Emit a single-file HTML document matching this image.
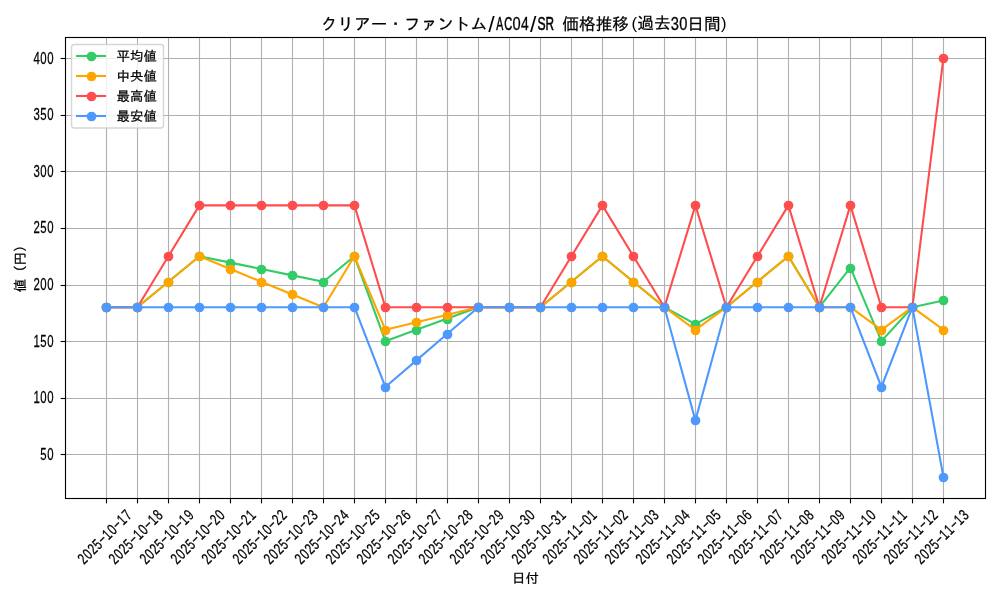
<!DOCTYPE html>
<html lang="ja">
<head>
<meta charset="utf-8">
<title>クリアー・ファントム/AC04/SR 価格推移(過去30日間)</title>
<style>
html,body{margin:0;padding:0;background:#fff;}
body{width:1000px;height:600px;overflow:hidden;}
svg{display:block;}
text{font-family:"Liberation Sans", "IPAGothic", sans-serif;fill:#000;stroke:#000;stroke-width:0.25px;}
.t10{font-size:13.889px;}
.t10s{font-size:13.4px;}
.t12{font-size:16.667px;}
.l10{font-size:15.60px;}
.l12{font-size:18.00px;}
</style>
</head>
<body>
<svg width="1000" height="600" viewBox="0 0 1000 600">
<rect x="0" y="0" width="1000" height="600" fill="#ffffff"/>
<g stroke="#b0b0b0" stroke-width="1.11" fill="none">
<line x1="106.5" y1="37.5" x2="106.5" y2="498.5"/>
<line x1="137.5" y1="37.5" x2="137.5" y2="498.5"/>
<line x1="168.5" y1="37.5" x2="168.5" y2="498.5"/>
<line x1="199.5" y1="37.5" x2="199.5" y2="498.5"/>
<line x1="230.5" y1="37.5" x2="230.5" y2="498.5"/>
<line x1="261.5" y1="37.5" x2="261.5" y2="498.5"/>
<line x1="292.5" y1="37.5" x2="292.5" y2="498.5"/>
<line x1="323.5" y1="37.5" x2="323.5" y2="498.5"/>
<line x1="354.5" y1="37.5" x2="354.5" y2="498.5"/>
<line x1="385.5" y1="37.5" x2="385.5" y2="498.5"/>
<line x1="416.5" y1="37.5" x2="416.5" y2="498.5"/>
<line x1="447.5" y1="37.5" x2="447.5" y2="498.5"/>
<line x1="478.5" y1="37.5" x2="478.5" y2="498.5"/>
<line x1="509.5" y1="37.5" x2="509.5" y2="498.5"/>
<line x1="540.5" y1="37.5" x2="540.5" y2="498.5"/>
<line x1="571.5" y1="37.5" x2="571.5" y2="498.5"/>
<line x1="602.5" y1="37.5" x2="602.5" y2="498.5"/>
<line x1="633.5" y1="37.5" x2="633.5" y2="498.5"/>
<line x1="664.5" y1="37.5" x2="664.5" y2="498.5"/>
<line x1="695.5" y1="37.5" x2="695.5" y2="498.5"/>
<line x1="726.5" y1="37.5" x2="726.5" y2="498.5"/>
<line x1="757.5" y1="37.5" x2="757.5" y2="498.5"/>
<line x1="788.5" y1="37.5" x2="788.5" y2="498.5"/>
<line x1="819.5" y1="37.5" x2="819.5" y2="498.5"/>
<line x1="850.5" y1="37.5" x2="850.5" y2="498.5"/>
<line x1="881.5" y1="37.5" x2="881.5" y2="498.5"/>
<line x1="912.5" y1="37.5" x2="912.5" y2="498.5"/>
<line x1="943.5" y1="37.5" x2="943.5" y2="498.5"/>
<line x1="65.5" y1="454.5" x2="985.5" y2="454.5"/>
<line x1="65.5" y1="398.5" x2="985.5" y2="398.5"/>
<line x1="65.5" y1="341.5" x2="985.5" y2="341.5"/>
<line x1="65.5" y1="285.5" x2="985.5" y2="285.5"/>
<line x1="65.5" y1="228.5" x2="985.5" y2="228.5"/>
<line x1="65.5" y1="171.5" x2="985.5" y2="171.5"/>
<line x1="65.5" y1="115.5" x2="985.5" y2="115.5"/>
<line x1="65.5" y1="58.5" x2="985.5" y2="58.5"/>
</g>
<g stroke="#000" stroke-width="1.11" fill="none">
<line x1="106.5" y1="498.5" x2="106.5" y2="503.36"/>
<line x1="137.5" y1="498.5" x2="137.5" y2="503.36"/>
<line x1="168.5" y1="498.5" x2="168.5" y2="503.36"/>
<line x1="199.5" y1="498.5" x2="199.5" y2="503.36"/>
<line x1="230.5" y1="498.5" x2="230.5" y2="503.36"/>
<line x1="261.5" y1="498.5" x2="261.5" y2="503.36"/>
<line x1="292.5" y1="498.5" x2="292.5" y2="503.36"/>
<line x1="323.5" y1="498.5" x2="323.5" y2="503.36"/>
<line x1="354.5" y1="498.5" x2="354.5" y2="503.36"/>
<line x1="385.5" y1="498.5" x2="385.5" y2="503.36"/>
<line x1="416.5" y1="498.5" x2="416.5" y2="503.36"/>
<line x1="447.5" y1="498.5" x2="447.5" y2="503.36"/>
<line x1="478.5" y1="498.5" x2="478.5" y2="503.36"/>
<line x1="509.5" y1="498.5" x2="509.5" y2="503.36"/>
<line x1="540.5" y1="498.5" x2="540.5" y2="503.36"/>
<line x1="571.5" y1="498.5" x2="571.5" y2="503.36"/>
<line x1="602.5" y1="498.5" x2="602.5" y2="503.36"/>
<line x1="633.5" y1="498.5" x2="633.5" y2="503.36"/>
<line x1="664.5" y1="498.5" x2="664.5" y2="503.36"/>
<line x1="695.5" y1="498.5" x2="695.5" y2="503.36"/>
<line x1="726.5" y1="498.5" x2="726.5" y2="503.36"/>
<line x1="757.5" y1="498.5" x2="757.5" y2="503.36"/>
<line x1="788.5" y1="498.5" x2="788.5" y2="503.36"/>
<line x1="819.5" y1="498.5" x2="819.5" y2="503.36"/>
<line x1="850.5" y1="498.5" x2="850.5" y2="503.36"/>
<line x1="881.5" y1="498.5" x2="881.5" y2="503.36"/>
<line x1="912.5" y1="498.5" x2="912.5" y2="503.36"/>
<line x1="943.5" y1="498.5" x2="943.5" y2="503.36"/>
<line x1="60.64" y1="454.5" x2="65.5" y2="454.5"/>
<line x1="60.64" y1="398.5" x2="65.5" y2="398.5"/>
<line x1="60.64" y1="341.5" x2="65.5" y2="341.5"/>
<line x1="60.64" y1="285.5" x2="65.5" y2="285.5"/>
<line x1="60.64" y1="228.5" x2="65.5" y2="228.5"/>
<line x1="60.64" y1="171.5" x2="65.5" y2="171.5"/>
<line x1="60.64" y1="115.5" x2="65.5" y2="115.5"/>
<line x1="60.64" y1="58.5" x2="65.5" y2="58.5"/>
</g>
<svg x="64.55" y="37.26" width="920.70" height="460.66" viewBox="64.55 37.26 920.70 460.66" overflow="hidden">
<g fill="#33cc66" stroke="#33cc66">
<polyline points="106.40,307.20 137.40,307.20 168.40,281.74 199.40,256.27 230.40,262.64 261.40,269.00 292.40,275.37 323.40,281.74 354.40,256.27 385.40,341.16 416.40,329.84 447.40,318.52 478.40,307.20 509.40,307.20 540.40,307.20 571.40,281.74 602.40,256.27 633.40,281.74 664.40,307.20 695.40,324.18 726.40,307.20 757.40,281.74 788.40,256.27 819.40,307.20 850.40,267.59 881.40,341.16 912.40,307.20 943.40,300.41" fill="none" stroke-width="2.083" stroke-linejoin="round" stroke-linecap="square"/>
<circle cx="106.50" cy="307.50" r="4.167" stroke-width="1.389"/>
<circle cx="137.50" cy="307.50" r="4.167" stroke-width="1.389"/>
<circle cx="168.50" cy="282.50" r="4.167" stroke-width="1.389"/>
<circle cx="199.50" cy="256.50" r="4.167" stroke-width="1.389"/>
<circle cx="230.50" cy="263.50" r="4.167" stroke-width="1.389"/>
<circle cx="261.50" cy="269.50" r="4.167" stroke-width="1.389"/>
<circle cx="292.50" cy="275.50" r="4.167" stroke-width="1.389"/>
<circle cx="323.50" cy="282.50" r="4.167" stroke-width="1.389"/>
<circle cx="354.50" cy="256.50" r="4.167" stroke-width="1.389"/>
<circle cx="385.50" cy="341.50" r="4.167" stroke-width="1.389"/>
<circle cx="416.50" cy="330.50" r="4.167" stroke-width="1.389"/>
<circle cx="447.50" cy="319.50" r="4.167" stroke-width="1.389"/>
<circle cx="478.50" cy="307.50" r="4.167" stroke-width="1.389"/>
<circle cx="509.50" cy="307.50" r="4.167" stroke-width="1.389"/>
<circle cx="540.50" cy="307.50" r="4.167" stroke-width="1.389"/>
<circle cx="571.50" cy="282.50" r="4.167" stroke-width="1.389"/>
<circle cx="602.50" cy="256.50" r="4.167" stroke-width="1.389"/>
<circle cx="633.50" cy="282.50" r="4.167" stroke-width="1.389"/>
<circle cx="664.50" cy="307.50" r="4.167" stroke-width="1.389"/>
<circle cx="695.50" cy="324.50" r="4.167" stroke-width="1.389"/>
<circle cx="726.50" cy="307.50" r="4.167" stroke-width="1.389"/>
<circle cx="757.50" cy="282.50" r="4.167" stroke-width="1.389"/>
<circle cx="788.50" cy="256.50" r="4.167" stroke-width="1.389"/>
<circle cx="819.50" cy="307.50" r="4.167" stroke-width="1.389"/>
<circle cx="850.50" cy="268.50" r="4.167" stroke-width="1.389"/>
<circle cx="881.50" cy="341.50" r="4.167" stroke-width="1.389"/>
<circle cx="912.50" cy="307.50" r="4.167" stroke-width="1.389"/>
<circle cx="943.50" cy="300.50" r="4.167" stroke-width="1.389"/>
</g>
<g fill="#ffa500" stroke="#ffa500">
<polyline points="106.40,307.20 137.40,307.20 168.40,281.74 199.40,256.27 230.40,269.00 261.40,281.74 292.40,294.47 323.40,307.20 354.40,256.27 385.40,329.84 416.40,322.29 447.40,314.75 478.40,307.20 509.40,307.20 540.40,307.20 571.40,281.74 602.40,256.27 633.40,281.74 664.40,307.20 695.40,329.84 726.40,307.20 757.40,281.74 788.40,256.27 819.40,307.20 850.40,307.20 881.40,329.84 912.40,307.20 943.40,329.84" fill="none" stroke-width="2.083" stroke-linejoin="round" stroke-linecap="square"/>
<circle cx="106.50" cy="307.50" r="4.167" stroke-width="1.389"/>
<circle cx="137.50" cy="307.50" r="4.167" stroke-width="1.389"/>
<circle cx="168.50" cy="282.50" r="4.167" stroke-width="1.389"/>
<circle cx="199.50" cy="256.50" r="4.167" stroke-width="1.389"/>
<circle cx="230.50" cy="269.50" r="4.167" stroke-width="1.389"/>
<circle cx="261.50" cy="282.50" r="4.167" stroke-width="1.389"/>
<circle cx="292.50" cy="294.50" r="4.167" stroke-width="1.389"/>
<circle cx="323.50" cy="307.50" r="4.167" stroke-width="1.389"/>
<circle cx="354.50" cy="256.50" r="4.167" stroke-width="1.389"/>
<circle cx="385.50" cy="330.50" r="4.167" stroke-width="1.389"/>
<circle cx="416.50" cy="322.50" r="4.167" stroke-width="1.389"/>
<circle cx="447.50" cy="315.50" r="4.167" stroke-width="1.389"/>
<circle cx="478.50" cy="307.50" r="4.167" stroke-width="1.389"/>
<circle cx="509.50" cy="307.50" r="4.167" stroke-width="1.389"/>
<circle cx="540.50" cy="307.50" r="4.167" stroke-width="1.389"/>
<circle cx="571.50" cy="282.50" r="4.167" stroke-width="1.389"/>
<circle cx="602.50" cy="256.50" r="4.167" stroke-width="1.389"/>
<circle cx="633.50" cy="282.50" r="4.167" stroke-width="1.389"/>
<circle cx="664.50" cy="307.50" r="4.167" stroke-width="1.389"/>
<circle cx="695.50" cy="330.50" r="4.167" stroke-width="1.389"/>
<circle cx="726.50" cy="307.50" r="4.167" stroke-width="1.389"/>
<circle cx="757.50" cy="282.50" r="4.167" stroke-width="1.389"/>
<circle cx="788.50" cy="256.50" r="4.167" stroke-width="1.389"/>
<circle cx="819.50" cy="307.50" r="4.167" stroke-width="1.389"/>
<circle cx="850.50" cy="307.50" r="4.167" stroke-width="1.389"/>
<circle cx="881.50" cy="330.50" r="4.167" stroke-width="1.389"/>
<circle cx="912.50" cy="307.50" r="4.167" stroke-width="1.389"/>
<circle cx="943.50" cy="330.50" r="4.167" stroke-width="1.389"/>
</g>
<g fill="#ff4d4d" stroke="#ff4d4d">
<polyline points="106.40,307.20 137.40,307.20 168.40,256.27 199.40,205.34 230.40,205.34 261.40,205.34 292.40,205.34 323.40,205.34 354.40,205.34 385.40,307.20 416.40,307.20 447.40,307.20 478.40,307.20 509.40,307.20 540.40,307.20 571.40,256.27 602.40,205.34 633.40,256.27 664.40,307.20 695.40,205.34 726.40,307.20 757.40,256.27 788.40,205.34 819.40,307.20 850.40,205.34 881.40,307.20 912.40,307.20 943.40,58.20" fill="none" stroke-width="2.083" stroke-linejoin="round" stroke-linecap="square"/>
<circle cx="106.50" cy="307.50" r="4.167" stroke-width="1.389"/>
<circle cx="137.50" cy="307.50" r="4.167" stroke-width="1.389"/>
<circle cx="168.50" cy="256.50" r="4.167" stroke-width="1.389"/>
<circle cx="199.50" cy="205.50" r="4.167" stroke-width="1.389"/>
<circle cx="230.50" cy="205.50" r="4.167" stroke-width="1.389"/>
<circle cx="261.50" cy="205.50" r="4.167" stroke-width="1.389"/>
<circle cx="292.50" cy="205.50" r="4.167" stroke-width="1.389"/>
<circle cx="323.50" cy="205.50" r="4.167" stroke-width="1.389"/>
<circle cx="354.50" cy="205.50" r="4.167" stroke-width="1.389"/>
<circle cx="385.50" cy="307.50" r="4.167" stroke-width="1.389"/>
<circle cx="416.50" cy="307.50" r="4.167" stroke-width="1.389"/>
<circle cx="447.50" cy="307.50" r="4.167" stroke-width="1.389"/>
<circle cx="478.50" cy="307.50" r="4.167" stroke-width="1.389"/>
<circle cx="509.50" cy="307.50" r="4.167" stroke-width="1.389"/>
<circle cx="540.50" cy="307.50" r="4.167" stroke-width="1.389"/>
<circle cx="571.50" cy="256.50" r="4.167" stroke-width="1.389"/>
<circle cx="602.50" cy="205.50" r="4.167" stroke-width="1.389"/>
<circle cx="633.50" cy="256.50" r="4.167" stroke-width="1.389"/>
<circle cx="664.50" cy="307.50" r="4.167" stroke-width="1.389"/>
<circle cx="695.50" cy="205.50" r="4.167" stroke-width="1.389"/>
<circle cx="726.50" cy="307.50" r="4.167" stroke-width="1.389"/>
<circle cx="757.50" cy="256.50" r="4.167" stroke-width="1.389"/>
<circle cx="788.50" cy="205.50" r="4.167" stroke-width="1.389"/>
<circle cx="819.50" cy="307.50" r="4.167" stroke-width="1.389"/>
<circle cx="850.50" cy="205.50" r="4.167" stroke-width="1.389"/>
<circle cx="881.50" cy="307.50" r="4.167" stroke-width="1.389"/>
<circle cx="912.50" cy="307.50" r="4.167" stroke-width="1.389"/>
<circle cx="943.50" cy="58.50" r="4.167" stroke-width="1.389"/>
</g>
<g fill="#4d99ff" stroke="#4d99ff">
<polyline points="106.40,307.20 137.40,307.20 168.40,307.20 199.40,307.20 230.40,307.20 261.40,307.20 292.40,307.20 323.40,307.20 354.40,307.20 385.40,387.00 416.40,360.40 447.40,333.80 478.40,307.20 509.40,307.20 540.40,307.20 571.40,307.20 602.40,307.20 633.40,307.20 664.40,307.20 695.40,420.39 726.40,307.20 757.40,307.20 788.40,307.20 819.40,307.20 850.40,307.20 881.40,387.00 912.40,307.20 943.40,476.98" fill="none" stroke-width="2.083" stroke-linejoin="round" stroke-linecap="square"/>
<circle cx="106.50" cy="307.50" r="4.167" stroke-width="1.389"/>
<circle cx="137.50" cy="307.50" r="4.167" stroke-width="1.389"/>
<circle cx="168.50" cy="307.50" r="4.167" stroke-width="1.389"/>
<circle cx="199.50" cy="307.50" r="4.167" stroke-width="1.389"/>
<circle cx="230.50" cy="307.50" r="4.167" stroke-width="1.389"/>
<circle cx="261.50" cy="307.50" r="4.167" stroke-width="1.389"/>
<circle cx="292.50" cy="307.50" r="4.167" stroke-width="1.389"/>
<circle cx="323.50" cy="307.50" r="4.167" stroke-width="1.389"/>
<circle cx="354.50" cy="307.50" r="4.167" stroke-width="1.389"/>
<circle cx="385.50" cy="387.50" r="4.167" stroke-width="1.389"/>
<circle cx="416.50" cy="360.50" r="4.167" stroke-width="1.389"/>
<circle cx="447.50" cy="334.50" r="4.167" stroke-width="1.389"/>
<circle cx="478.50" cy="307.50" r="4.167" stroke-width="1.389"/>
<circle cx="509.50" cy="307.50" r="4.167" stroke-width="1.389"/>
<circle cx="540.50" cy="307.50" r="4.167" stroke-width="1.389"/>
<circle cx="571.50" cy="307.50" r="4.167" stroke-width="1.389"/>
<circle cx="602.50" cy="307.50" r="4.167" stroke-width="1.389"/>
<circle cx="633.50" cy="307.50" r="4.167" stroke-width="1.389"/>
<circle cx="664.50" cy="307.50" r="4.167" stroke-width="1.389"/>
<circle cx="695.50" cy="420.50" r="4.167" stroke-width="1.389"/>
<circle cx="726.50" cy="307.50" r="4.167" stroke-width="1.389"/>
<circle cx="757.50" cy="307.50" r="4.167" stroke-width="1.389"/>
<circle cx="788.50" cy="307.50" r="4.167" stroke-width="1.389"/>
<circle cx="819.50" cy="307.50" r="4.167" stroke-width="1.389"/>
<circle cx="850.50" cy="307.50" r="4.167" stroke-width="1.389"/>
<circle cx="881.50" cy="387.50" r="4.167" stroke-width="1.389"/>
<circle cx="912.50" cy="307.50" r="4.167" stroke-width="1.389"/>
<circle cx="943.50" cy="477.50" r="4.167" stroke-width="1.389"/>
</g>
</svg>
<rect x="65.5" y="37.5" width="920.0" height="461.0" fill="none" stroke="#000" stroke-width="1.11" stroke-linejoin="miter"/>
<text class="l10" transform="translate(53.90 459.80) scale(0.730 1)" x="-14.27 -4.76" y="0" text-anchor="middle">50</text>
<text class="l10" transform="translate(53.90 402.80) scale(0.730 1)" x="-23.78 -14.27 -4.76" y="0" text-anchor="middle">100</text>
<text class="l10" transform="translate(53.90 346.80) scale(0.730 1)" x="-23.78 -14.27 -4.76" y="0" text-anchor="middle">150</text>
<text class="l10" transform="translate(53.90 289.80) scale(0.730 1)" x="-23.78 -14.27 -4.76" y="0" text-anchor="middle">200</text>
<text class="l10" transform="translate(53.90 232.80) scale(0.730 1)" x="-23.78 -14.27 -4.76" y="0" text-anchor="middle">250</text>
<text class="l10" transform="translate(53.90 176.80) scale(0.730 1)" x="-23.78 -14.27 -4.76" y="0" text-anchor="middle">300</text>
<text class="l10" transform="translate(53.90 119.80) scale(0.730 1)" x="-23.78 -14.27 -4.76" y="0" text-anchor="middle">350</text>
<text class="l10" transform="translate(53.90 63.80) scale(0.730 1)" x="-23.78 -14.27 -4.76" y="0" text-anchor="middle">400</text>
<text class="l10" transform="translate(108.40 540.60) rotate(-45) scale(0.730 1)" x="-42.81 -33.30 -23.78 -14.27 -4.76 4.76 14.27 23.78 33.30 42.81" y="0" text-anchor="middle">2025<tspan dy="-1.30" textLength="9.87" lengthAdjust="spacingAndGlyphs">-</tspan><tspan dy="1.30">10</tspan><tspan dy="-1.30" textLength="9.87" lengthAdjust="spacingAndGlyphs">-</tspan><tspan dy="1.30">17</tspan></text>
<text class="l10" transform="translate(139.40 540.60) rotate(-45) scale(0.730 1)" x="-42.81 -33.30 -23.78 -14.27 -4.76 4.76 14.27 23.78 33.30 42.81" y="0" text-anchor="middle">2025<tspan dy="-1.30" textLength="9.87" lengthAdjust="spacingAndGlyphs">-</tspan><tspan dy="1.30">10</tspan><tspan dy="-1.30" textLength="9.87" lengthAdjust="spacingAndGlyphs">-</tspan><tspan dy="1.30">18</tspan></text>
<text class="l10" transform="translate(170.40 540.60) rotate(-45) scale(0.730 1)" x="-42.81 -33.30 -23.78 -14.27 -4.76 4.76 14.27 23.78 33.30 42.81" y="0" text-anchor="middle">2025<tspan dy="-1.30" textLength="9.87" lengthAdjust="spacingAndGlyphs">-</tspan><tspan dy="1.30">10</tspan><tspan dy="-1.30" textLength="9.87" lengthAdjust="spacingAndGlyphs">-</tspan><tspan dy="1.30">19</tspan></text>
<text class="l10" transform="translate(201.40 540.60) rotate(-45) scale(0.730 1)" x="-42.81 -33.30 -23.78 -14.27 -4.76 4.76 14.27 23.78 33.30 42.81" y="0" text-anchor="middle">2025<tspan dy="-1.30" textLength="9.87" lengthAdjust="spacingAndGlyphs">-</tspan><tspan dy="1.30">10</tspan><tspan dy="-1.30" textLength="9.87" lengthAdjust="spacingAndGlyphs">-</tspan><tspan dy="1.30">20</tspan></text>
<text class="l10" transform="translate(232.40 540.60) rotate(-45) scale(0.730 1)" x="-42.81 -33.30 -23.78 -14.27 -4.76 4.76 14.27 23.78 33.30 42.81" y="0" text-anchor="middle">2025<tspan dy="-1.30" textLength="9.87" lengthAdjust="spacingAndGlyphs">-</tspan><tspan dy="1.30">10</tspan><tspan dy="-1.30" textLength="9.87" lengthAdjust="spacingAndGlyphs">-</tspan><tspan dy="1.30">21</tspan></text>
<text class="l10" transform="translate(263.40 540.60) rotate(-45) scale(0.730 1)" x="-42.81 -33.30 -23.78 -14.27 -4.76 4.76 14.27 23.78 33.30 42.81" y="0" text-anchor="middle">2025<tspan dy="-1.30" textLength="9.87" lengthAdjust="spacingAndGlyphs">-</tspan><tspan dy="1.30">10</tspan><tspan dy="-1.30" textLength="9.87" lengthAdjust="spacingAndGlyphs">-</tspan><tspan dy="1.30">22</tspan></text>
<text class="l10" transform="translate(294.40 540.60) rotate(-45) scale(0.730 1)" x="-42.81 -33.30 -23.78 -14.27 -4.76 4.76 14.27 23.78 33.30 42.81" y="0" text-anchor="middle">2025<tspan dy="-1.30" textLength="9.87" lengthAdjust="spacingAndGlyphs">-</tspan><tspan dy="1.30">10</tspan><tspan dy="-1.30" textLength="9.87" lengthAdjust="spacingAndGlyphs">-</tspan><tspan dy="1.30">23</tspan></text>
<text class="l10" transform="translate(325.40 540.60) rotate(-45) scale(0.730 1)" x="-42.81 -33.30 -23.78 -14.27 -4.76 4.76 14.27 23.78 33.30 42.81" y="0" text-anchor="middle">2025<tspan dy="-1.30" textLength="9.87" lengthAdjust="spacingAndGlyphs">-</tspan><tspan dy="1.30">10</tspan><tspan dy="-1.30" textLength="9.87" lengthAdjust="spacingAndGlyphs">-</tspan><tspan dy="1.30">24</tspan></text>
<text class="l10" transform="translate(356.40 540.60) rotate(-45) scale(0.730 1)" x="-42.81 -33.30 -23.78 -14.27 -4.76 4.76 14.27 23.78 33.30 42.81" y="0" text-anchor="middle">2025<tspan dy="-1.30" textLength="9.87" lengthAdjust="spacingAndGlyphs">-</tspan><tspan dy="1.30">10</tspan><tspan dy="-1.30" textLength="9.87" lengthAdjust="spacingAndGlyphs">-</tspan><tspan dy="1.30">25</tspan></text>
<text class="l10" transform="translate(387.40 540.60) rotate(-45) scale(0.730 1)" x="-42.81 -33.30 -23.78 -14.27 -4.76 4.76 14.27 23.78 33.30 42.81" y="0" text-anchor="middle">2025<tspan dy="-1.30" textLength="9.87" lengthAdjust="spacingAndGlyphs">-</tspan><tspan dy="1.30">10</tspan><tspan dy="-1.30" textLength="9.87" lengthAdjust="spacingAndGlyphs">-</tspan><tspan dy="1.30">26</tspan></text>
<text class="l10" transform="translate(418.40 540.60) rotate(-45) scale(0.730 1)" x="-42.81 -33.30 -23.78 -14.27 -4.76 4.76 14.27 23.78 33.30 42.81" y="0" text-anchor="middle">2025<tspan dy="-1.30" textLength="9.87" lengthAdjust="spacingAndGlyphs">-</tspan><tspan dy="1.30">10</tspan><tspan dy="-1.30" textLength="9.87" lengthAdjust="spacingAndGlyphs">-</tspan><tspan dy="1.30">27</tspan></text>
<text class="l10" transform="translate(449.40 540.60) rotate(-45) scale(0.730 1)" x="-42.81 -33.30 -23.78 -14.27 -4.76 4.76 14.27 23.78 33.30 42.81" y="0" text-anchor="middle">2025<tspan dy="-1.30" textLength="9.87" lengthAdjust="spacingAndGlyphs">-</tspan><tspan dy="1.30">10</tspan><tspan dy="-1.30" textLength="9.87" lengthAdjust="spacingAndGlyphs">-</tspan><tspan dy="1.30">28</tspan></text>
<text class="l10" transform="translate(480.40 540.60) rotate(-45) scale(0.730 1)" x="-42.81 -33.30 -23.78 -14.27 -4.76 4.76 14.27 23.78 33.30 42.81" y="0" text-anchor="middle">2025<tspan dy="-1.30" textLength="9.87" lengthAdjust="spacingAndGlyphs">-</tspan><tspan dy="1.30">10</tspan><tspan dy="-1.30" textLength="9.87" lengthAdjust="spacingAndGlyphs">-</tspan><tspan dy="1.30">29</tspan></text>
<text class="l10" transform="translate(511.40 540.60) rotate(-45) scale(0.730 1)" x="-42.81 -33.30 -23.78 -14.27 -4.76 4.76 14.27 23.78 33.30 42.81" y="0" text-anchor="middle">2025<tspan dy="-1.30" textLength="9.87" lengthAdjust="spacingAndGlyphs">-</tspan><tspan dy="1.30">10</tspan><tspan dy="-1.30" textLength="9.87" lengthAdjust="spacingAndGlyphs">-</tspan><tspan dy="1.30">30</tspan></text>
<text class="l10" transform="translate(542.40 540.60) rotate(-45) scale(0.730 1)" x="-42.81 -33.30 -23.78 -14.27 -4.76 4.76 14.27 23.78 33.30 42.81" y="0" text-anchor="middle">2025<tspan dy="-1.30" textLength="9.87" lengthAdjust="spacingAndGlyphs">-</tspan><tspan dy="1.30">10</tspan><tspan dy="-1.30" textLength="9.87" lengthAdjust="spacingAndGlyphs">-</tspan><tspan dy="1.30">31</tspan></text>
<text class="l10" transform="translate(573.40 540.60) rotate(-45) scale(0.730 1)" x="-42.81 -33.30 -23.78 -14.27 -4.76 4.76 14.27 23.78 33.30 42.81" y="0" text-anchor="middle">2025<tspan dy="-1.30" textLength="9.87" lengthAdjust="spacingAndGlyphs">-</tspan><tspan dy="1.30">11</tspan><tspan dy="-1.30" textLength="9.87" lengthAdjust="spacingAndGlyphs">-</tspan><tspan dy="1.30">01</tspan></text>
<text class="l10" transform="translate(604.40 540.60) rotate(-45) scale(0.730 1)" x="-42.81 -33.30 -23.78 -14.27 -4.76 4.76 14.27 23.78 33.30 42.81" y="0" text-anchor="middle">2025<tspan dy="-1.30" textLength="9.87" lengthAdjust="spacingAndGlyphs">-</tspan><tspan dy="1.30">11</tspan><tspan dy="-1.30" textLength="9.87" lengthAdjust="spacingAndGlyphs">-</tspan><tspan dy="1.30">02</tspan></text>
<text class="l10" transform="translate(635.40 540.60) rotate(-45) scale(0.730 1)" x="-42.81 -33.30 -23.78 -14.27 -4.76 4.76 14.27 23.78 33.30 42.81" y="0" text-anchor="middle">2025<tspan dy="-1.30" textLength="9.87" lengthAdjust="spacingAndGlyphs">-</tspan><tspan dy="1.30">11</tspan><tspan dy="-1.30" textLength="9.87" lengthAdjust="spacingAndGlyphs">-</tspan><tspan dy="1.30">03</tspan></text>
<text class="l10" transform="translate(666.40 540.60) rotate(-45) scale(0.730 1)" x="-42.81 -33.30 -23.78 -14.27 -4.76 4.76 14.27 23.78 33.30 42.81" y="0" text-anchor="middle">2025<tspan dy="-1.30" textLength="9.87" lengthAdjust="spacingAndGlyphs">-</tspan><tspan dy="1.30">11</tspan><tspan dy="-1.30" textLength="9.87" lengthAdjust="spacingAndGlyphs">-</tspan><tspan dy="1.30">04</tspan></text>
<text class="l10" transform="translate(697.40 540.60) rotate(-45) scale(0.730 1)" x="-42.81 -33.30 -23.78 -14.27 -4.76 4.76 14.27 23.78 33.30 42.81" y="0" text-anchor="middle">2025<tspan dy="-1.30" textLength="9.87" lengthAdjust="spacingAndGlyphs">-</tspan><tspan dy="1.30">11</tspan><tspan dy="-1.30" textLength="9.87" lengthAdjust="spacingAndGlyphs">-</tspan><tspan dy="1.30">05</tspan></text>
<text class="l10" transform="translate(728.40 540.60) rotate(-45) scale(0.730 1)" x="-42.81 -33.30 -23.78 -14.27 -4.76 4.76 14.27 23.78 33.30 42.81" y="0" text-anchor="middle">2025<tspan dy="-1.30" textLength="9.87" lengthAdjust="spacingAndGlyphs">-</tspan><tspan dy="1.30">11</tspan><tspan dy="-1.30" textLength="9.87" lengthAdjust="spacingAndGlyphs">-</tspan><tspan dy="1.30">06</tspan></text>
<text class="l10" transform="translate(759.40 540.60) rotate(-45) scale(0.730 1)" x="-42.81 -33.30 -23.78 -14.27 -4.76 4.76 14.27 23.78 33.30 42.81" y="0" text-anchor="middle">2025<tspan dy="-1.30" textLength="9.87" lengthAdjust="spacingAndGlyphs">-</tspan><tspan dy="1.30">11</tspan><tspan dy="-1.30" textLength="9.87" lengthAdjust="spacingAndGlyphs">-</tspan><tspan dy="1.30">07</tspan></text>
<text class="l10" transform="translate(790.40 540.60) rotate(-45) scale(0.730 1)" x="-42.81 -33.30 -23.78 -14.27 -4.76 4.76 14.27 23.78 33.30 42.81" y="0" text-anchor="middle">2025<tspan dy="-1.30" textLength="9.87" lengthAdjust="spacingAndGlyphs">-</tspan><tspan dy="1.30">11</tspan><tspan dy="-1.30" textLength="9.87" lengthAdjust="spacingAndGlyphs">-</tspan><tspan dy="1.30">08</tspan></text>
<text class="l10" transform="translate(821.40 540.60) rotate(-45) scale(0.730 1)" x="-42.81 -33.30 -23.78 -14.27 -4.76 4.76 14.27 23.78 33.30 42.81" y="0" text-anchor="middle">2025<tspan dy="-1.30" textLength="9.87" lengthAdjust="spacingAndGlyphs">-</tspan><tspan dy="1.30">11</tspan><tspan dy="-1.30" textLength="9.87" lengthAdjust="spacingAndGlyphs">-</tspan><tspan dy="1.30">09</tspan></text>
<text class="l10" transform="translate(852.40 540.60) rotate(-45) scale(0.730 1)" x="-42.81 -33.30 -23.78 -14.27 -4.76 4.76 14.27 23.78 33.30 42.81" y="0" text-anchor="middle">2025<tspan dy="-1.30" textLength="9.87" lengthAdjust="spacingAndGlyphs">-</tspan><tspan dy="1.30">11</tspan><tspan dy="-1.30" textLength="9.87" lengthAdjust="spacingAndGlyphs">-</tspan><tspan dy="1.30">10</tspan></text>
<text class="l10" transform="translate(883.40 540.60) rotate(-45) scale(0.730 1)" x="-42.81 -33.30 -23.78 -14.27 -4.76 4.76 14.27 23.78 33.30 42.81" y="0" text-anchor="middle">2025<tspan dy="-1.30" textLength="9.87" lengthAdjust="spacingAndGlyphs">-</tspan><tspan dy="1.30">11</tspan><tspan dy="-1.30" textLength="9.87" lengthAdjust="spacingAndGlyphs">-</tspan><tspan dy="1.30">11</tspan></text>
<text class="l10" transform="translate(914.40 540.60) rotate(-45) scale(0.730 1)" x="-42.81 -33.30 -23.78 -14.27 -4.76 4.76 14.27 23.78 33.30 42.81" y="0" text-anchor="middle">2025<tspan dy="-1.30" textLength="9.87" lengthAdjust="spacingAndGlyphs">-</tspan><tspan dy="1.30">11</tspan><tspan dy="-1.30" textLength="9.87" lengthAdjust="spacingAndGlyphs">-</tspan><tspan dy="1.30">12</tspan></text>
<text class="l10" transform="translate(945.40 540.60) rotate(-45) scale(0.730 1)" x="-42.81 -33.30 -23.78 -14.27 -4.76 4.76 14.27 23.78 33.30 42.81" y="0" text-anchor="middle">2025<tspan dy="-1.30" textLength="9.87" lengthAdjust="spacingAndGlyphs">-</tspan><tspan dy="1.30">11</tspan><tspan dy="-1.30" textLength="9.87" lengthAdjust="spacingAndGlyphs">-</tspan><tspan dy="1.30">13</tspan></text>
<text class="t10s" x="525.5" y="583" text-anchor="middle">日付</text>
<text class="t10s" transform="translate(25 265.4) rotate(-90)" text-anchor="middle">値（円）</text>
<text class="t12" y="29.90"><tspan x="320.70">クリアー・ファントム</tspan><tspan x="488.34" y="31.70" font-size="21.50" stroke-width="0" textLength="6.40" lengthAdjust="spacingAndGlyphs">/</tspan><tspan x="496.35" y="29.90" font-size="18.20" stroke-width="0.55" textLength="7.04" lengthAdjust="spacingAndGlyphs">A</tspan><tspan x="504.14" y="29.90" font-size="18.20" stroke-width="0.55" textLength="7.99" lengthAdjust="spacingAndGlyphs">C</tspan><tspan x="512.47" y="29.90" font-size="18.20" stroke-width="0.30" textLength="8.15" lengthAdjust="spacingAndGlyphs">0</tspan><tspan x="521.05" y="29.90" font-size="18.20" stroke-width="0.30" textLength="7.72" lengthAdjust="spacingAndGlyphs">4</tspan><tspan x="530.00" y="31.70" font-size="21.50" stroke-width="0" textLength="6.40" lengthAdjust="spacingAndGlyphs">/</tspan><tspan x="537.49" y="29.90" font-size="18.20" stroke-width="0.55" textLength="8.11" lengthAdjust="spacingAndGlyphs">S</tspan><tspan x="545.40" y="29.90" font-size="18.20" stroke-width="0.55" textLength="8.51" lengthAdjust="spacingAndGlyphs">R</tspan><tspan x="554.04"> </tspan><tspan x="562.37">価格推移</tspan><tspan x="631.51" y="28.70" font-size="16.70" stroke-width="0">(</tspan><tspan x="637.37">過去</tspan><tspan x="670.81" y="29.90" font-size="18.20" stroke-width="0.30" textLength="8.21" lengthAdjust="spacingAndGlyphs">3</tspan><tspan x="679.14" y="29.90" font-size="18.20" stroke-width="0.30" textLength="8.15" lengthAdjust="spacingAndGlyphs">0</tspan><tspan x="687.37">日間</tspan><tspan x="721.01" y="28.70" font-size="16.70" stroke-width="0">)</tspan></text>
<rect x="71.55" y="44.50" width="91.95" height="83.50" rx="2.78" ry="2.78" fill="#ffffff" fill-opacity="0.8" stroke="#cccccc" stroke-opacity="0.8" stroke-width="1.389"/>
<line x1="77.04" y1="56.00" x2="104.96" y2="56.00" stroke="#33cc66" stroke-width="2.083" stroke-linecap="square"/>
<circle cx="91.5" cy="56.50" r="4.167" fill="#33cc66" stroke="#33cc66" stroke-width="1.389"/>
<text class="t10s" x="116.6" y="60.85">平均値</text>
<line x1="77.04" y1="76.00" x2="104.96" y2="76.00" stroke="#ffa500" stroke-width="2.083" stroke-linecap="square"/>
<circle cx="91.5" cy="76.50" r="4.167" fill="#ffa500" stroke="#ffa500" stroke-width="1.389"/>
<text class="t10s" x="116.6" y="80.85">中央値</text>
<line x1="77.04" y1="96.00" x2="104.96" y2="96.00" stroke="#ff4d4d" stroke-width="2.083" stroke-linecap="square"/>
<circle cx="91.5" cy="96.50" r="4.167" fill="#ff4d4d" stroke="#ff4d4d" stroke-width="1.389"/>
<text class="t10s" x="116.6" y="100.85">最高値</text>
<line x1="77.04" y1="116.00" x2="104.96" y2="116.00" stroke="#4d99ff" stroke-width="2.083" stroke-linecap="square"/>
<circle cx="91.5" cy="116.50" r="4.167" fill="#4d99ff" stroke="#4d99ff" stroke-width="1.389"/>
<text class="t10s" x="116.6" y="120.85">最安値</text>
</svg>
</body>
</html>
